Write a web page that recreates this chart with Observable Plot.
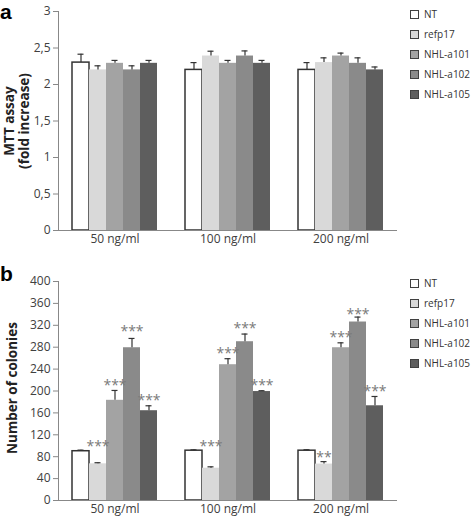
<!DOCTYPE html>
<html>
<head>
<meta charset="utf-8">
<script src="https://cdn.jsdelivr.net/npm/d3@7"></script>
<script src="https://cdn.jsdelivr.net/npm/@observablehq/plot@0.6"></script>
<style>
  html, body { margin: 0; padding: 0; background: #fff; }
  #root { position: relative; width: 472px; height: 524px; font-family: "Open Sans", sans-serif; color: #404040; overflow: hidden; }
  .panel { position: absolute; left: 0; width: 472px; }
  .plabel { position: absolute; font-family: "Liberation Sans", Arial, sans-serif; font-weight: bold; font-size: 21px; color: #000; line-height: 24px; }
  .ytitle { position: absolute; transform: translate(-50%, -50%) rotate(-90deg); white-space: nowrap; text-align: center; font-weight: bold; font-size: 13.5px; color: #222; line-height: 15px; }
  .legend { position: absolute; left: 410px; font-size: 10px; color: #333; }
  .legend .row { position: absolute; left: 0; display: flex; align-items: center; white-space: nowrap; transform: translateY(-50%); }
  .legend .sw { width: 7px; height: 7px; border: 1px solid #404040; margin-right: 5px; }
</style>
</head>
<body>
<div id="root"></div>
<script>
// ---- data ----
const doses = ["50 ng/ml", "100 ng/ml", "200 ng/ml"];
const series = ["NT", "refp17", "NHL-a101", "NHL-a102", "NHL-a105"];
const seriesColors = ["#ffffff", "#d9d9d9", "#a3a3a3", "#8a8a8a", "#5e5e5e"];

// Panel a: MTT assay (fold increase), rows = doses, cols = series
const mttValues = [
  [2.30, 2.20, 2.29, 2.20, 2.29],
  [2.20, 2.39, 2.29, 2.39, 2.29],
  [2.20, 2.30, 2.39, 2.29, 2.20]
];
const mttErrors = [
  [0.115, 0.056, 0.04, 0.056, 0.04],
  [0.10, 0.066, 0.04, 0.07, 0.04],
  [0.10, 0.065, 0.04, 0.075, 0.04]
];
const mttTicks = [0, 0.5, 1, 1.5, 2, 2.5, 3];

// Panel b: Number of colonies
const colonyValues = [
  [90, 67, 183, 279, 164],
  [91, 59, 248, 290, 199],
  [91, 66.5, 279, 326, 173]
];
const colonyErrors = [
  [2, 2, 18, 17, 9],
  [1.5, 2.5, 11, 14, 1.5],
  [1.7, 4.5, 9, 9, 17]
];
const colonyStars = [
  ["", "***", "***", "***", "***"],
  ["", "***", "***", "***", "***"],
  ["", "**", "***", "***", "***"]
];
const colonyStarLevel = [
  [null, 105, 218, 316, 190],
  [null, 105, 276, 322, 218],
  [null, 85, 305, 347, 206]
];
const colonyTicks = [0, 40, 80, 120, 160, 200, 240, 280, 320, 360, 400];

// ---- build tables ----
function table(values, errors, stars, starLevel) {
  const rows = [];
  doses.forEach((dose, i) => series.forEach((s, j) => rows.push({
    dose, series: s, value: values[i][j], top: values[i][j] + errors[i][j],
    stars: stars ? stars[i][j] : "", starY: starLevel ? starLevel[i][j] : null
  })));
  return rows;
}

const fmtComma = d => String(d).replace(".", ",");

function chart(rows, opts) {
  return Plot.plot({
    width: 472,
    height: opts.height,
    marginLeft: 58,
    marginRight: 75,
    marginTop: opts.marginTop,
    marginBottom: opts.marginBottom,
    style: { fontFamily: "Open Sans, sans-serif", fontSize: "12px", color: "#404040", background: "transparent" },
    fx: { domain: doses, padding: 0, label: null },
    x: { domain: series, paddingInner: 0, paddingOuter: 0.785, axis: null },
    y: { domain: opts.yDomain, ticks: opts.ticks, tickFormat: opts.tickFormat, label: null },
    color: { domain: series, range: seriesColors },
    marks: [
      Plot.axisY({ ticks: opts.ticks, tickFormat: opts.tickFormat, tickSize: 5, tickPadding: 3, stroke: "#888", label: null }),
      Plot.frame({ anchor: "left", facetAnchor: "left", stroke: "#888" }),
      Plot.axisFx({ anchor: "bottom", tickSize: 0, tickPadding: opts.fxPad, label: null, fontSize: 12 }),
      Plot.barY(rows, {
        fx: "dose", x: "series", y: "value", fill: "series",
        stroke: d => d.series === "NT" ? "#333" : "none", strokeWidth: 1.5
      }),
      Plot.ruleX(rows, { fx: "dose", x: "series", y1: "value", y2: "top", stroke: "#333", strokeWidth: 1.2 }),
      Plot.tickY(rows, { fx: "dose", x: "series", y: "top", stroke: "#333", strokeWidth: 1.2, insetLeft: 5.5, insetRight: 5.5 }),
      Plot.text(rows.filter(d => d.stars), {
        fx: "dose", x: "series", y: "starY", text: "stars",
        fill: "#7a7a7a", fontSize: 14, lineAnchor: "middle", dy: 4
      }),
      Plot.ruleY([0], { stroke: "#888" })
    ]
  });
}

const root = document.getElementById("root");

function panel(top, height, svg) {
  const div = document.createElement("div");
  div.className = "panel";
  div.style.top = top + "px";
  div.style.height = height + "px";
  div.appendChild(svg);
  root.appendChild(div);
  return div;
}

function legend(centers) {
  const lg = document.createElement("div");
  lg.className = "legend";
  lg.style.top = "0px";
  series.forEach((s, i) => {
    const row = document.createElement("div");
    row.className = "row";
    row.style.top = centers[i] + "px";
    const sw = document.createElement("div");
    sw.className = "sw";
    sw.style.background = seriesColors[i];
    const t = document.createElement("span");
    t.textContent = s;
    row.appendChild(sw); row.appendChild(t);
    lg.appendChild(row);
  });
  root.appendChild(lg);
}

function addText(cls, html, left, top) {
  const el = document.createElement("div");
  el.className = cls;
  el.innerHTML = html;
  el.style.left = left + "px";
  el.style.top = top + "px";
  root.appendChild(el);
  return el;
}

// Panel a
const svgA = chart(table(mttValues, mttErrors), {
  height: 250, marginTop: 11, marginBottom: 20, yDomain: [0, 3], ticks: mttTicks, tickFormat: fmtComma, fxPad: 4
});
panel(0, 250, svgA);
legend([14, 34, 54, 74, 94]);
addText("plabel", "a", 0, 0);
addText("ytitle", "MTT assay<br>(fold increase)", 17, 121);

// Panel b
const svgB = chart(table(colonyValues, colonyErrors, colonyStars, colonyStarLevel), {
  height: 264, marginTop: 21, marginBottom: 24, yDomain: [0, 400], ticks: colonyTicks, tickFormat: d => d, fxPad: 4
});
panel(260, 264, svgB);
legend([283, 303, 323, 343, 363]);
addText("plabel", "b", 0, 262);
addText("ytitle", "Number of colonies", 12, 388);
</script>
</body>
</html>
